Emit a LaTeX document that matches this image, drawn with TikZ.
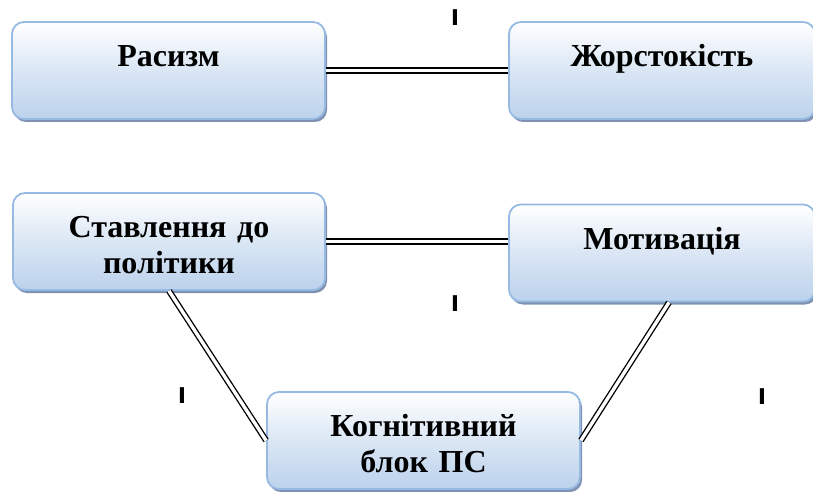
\documentclass[tikz,border=0pt]{standalone}
\usepackage{fontspec}
\setmainfont{Liberation Serif}
\newfontfamily\tickfont{Liberation Sans}
\usetikzlibrary{shadows}
\definecolor{boxline}{RGB}{150,186,226}
\definecolor{boxfill}{RGB}{188,210,236}
\definecolor{boxshade}{RGB}{128,146,178}
\tikzset{
  block/.style={draw=boxline, line width=1.8pt,
    rounded corners=12pt,
    top color=white, bottom color=boxfill, middle color=white!45!boxfill,
    drop shadow={shadow xshift=2pt, shadow yshift=-3pt, fill=boxshade, opacity=1},
    minimum height=97pt, inner sep=0pt,
    text height=44.5pt, text depth=52.5pt,
    align=center, font=\fontsize{32}{35.5}\selectfont\bfseries},
  link/.style={draw, double, double distance=3.4pt, line width=1.35pt},
  tick/.style={anchor=base, inner sep=0pt, font=\fontsize{30}{34}\selectfont\tickfont\bfseries}
}

\begin{document}
\begin{tikzpicture}[x=1pt, y=-1pt]
\useasboundingbox (0,0) rectangle (813,492);
\path[clip] (0,0) rectangle (813,492);

\node[block, 
   text width=313pt, 
   minimum width=313pt] (racism) at (168.5,70.5) 
  {Расизм};
\node[block, 
   text width=306pt, 
   minimum width=306pt] (cruelty) at (662,70.5) 
  {Жорстокість};
\node[block, 
   text width=312pt, 
   minimum width=312pt] (policy) at (169,241.5) 
  {Ставлення до\\політики};
\node[block, 
   text width=306pt, 
   minimum width=306pt] (motive) at (662,253) 
  {Мотивація};
\node[block, 
   text width=313pt, 
   minimum width=313pt] (cognit) at (423.5,440.5) 
  {Когнітивний\\блок ПС};

\draw[link] (racism.east) -- (cruelty.west);
\draw[link] (policy.east) -- (policy.east -| motive.west);
\draw[link] (policy.south) -- (cognit.west);
\draw[link] ([xshift=7pt]motive.south) -- (cognit.east);

\node[tick] (tickA) at (455,26) {ı};
\node[tick] (tickB) at (455,311) {ı};
\node[tick] (tickC) at (182,403) {ı};
\node[tick] (tickD) at (762,404) {ı};
\end{tikzpicture}
\end{document}
